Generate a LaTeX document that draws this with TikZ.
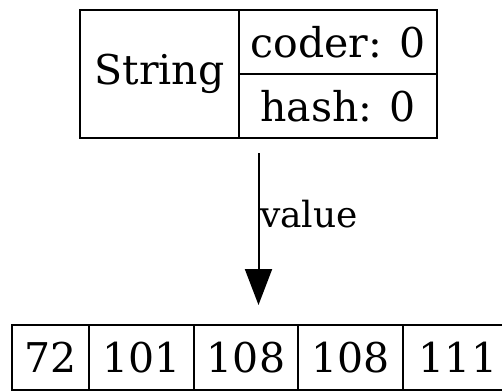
\documentclass[tikz,border=0pt]{standalone}
\usepackage{fontspec}
\setmainfont{DejaVu Serif}
\usepackage{tikz}
\usetikzlibrary{arrows.meta}
\usetikzlibrary{calc}
\usetikzlibrary{positioning}

\begin{document}
\begin{tikzpicture}[
        x=1pt, y=-1pt,
        cell/.style={draw, line width=2pt, inner sep=0pt, minimum height=#1,
            font=\fontsize{41}{48}\selectfont},
        cell/.default=64pt,
        link/.style={line width=2pt, -{Triangle[width=27pt,length=36pt]}}
    ]
        \clip (0,0) rectangle (502,391);
        \useasboundingbox (0,0) rectangle (502,391);

        % String record
        \node[cell=128pt, minimum width=159pt] (name) at (159.5,74) {String};
        \node[cell, minimum width=198pt] (coder) at (338,42) {coder: 0};
        \node[cell, minimum width=198pt] (hash) at (338,106) {hash: 0};
        \coordinate (rec) at ($(name.south west)!0.5!(hash.south east)$);

        % value array
        \foreach \n/\x/\w/\v in {
            c1/50.5/77/72,
            c2/141.5/105/101,
            c3/246/104/108,
            c4/350.5/105/108,
            c5/458/110/111
        } {
            \node[cell=65pt, minimum width=\w pt] (\n) at (\x,357.5) {\v};
        }

        % pointer
        \draw[link, shorten <=14pt, shorten >=19pt] (rec) -- (rec |- c1.north)
            node[pos=0.48, anchor=base west, inner sep=0pt, xshift=0.5pt,
                font=\fontsize{36}{42}\selectfont] (lbl) {value};
    \end{tikzpicture}
\end{document}
